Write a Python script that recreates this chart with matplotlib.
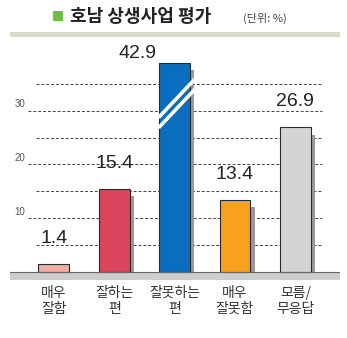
import matplotlib
matplotlib.use("Agg")
import matplotlib.pyplot as plt
from matplotlib.patches import Rectangle
from matplotlib import font_manager as fm

# ---- data ----
categories = ["매우\n잘함", "잘하는\n편", "잘못하는\n편", "매우\n잘못함", "모름/\n무응답"]
values = [1.4, 15.4, 42.9, 13.4, 26.9]
colors = ["#F4ABA2", "#D9455C", "#0A6DBE", "#F7A11D", "#D4D4D4"]
grid_values = [5, 10, 15, 20, 25, 30, 35]
tick_labels = {10: "10", 20: "20", 30: "30"}
title = "호남 상생사업 평가"
unit = "(단위: %)"

names = {f.name for f in fm.fontManager.ttflist}
narrow = "Liberation Sans Narrow" if "Liberation Sans Narrow" in names else "Liberation Sans"
kr = ["Noto Sans CJK KR", "DejaVu Sans"]

W, H = 347, 338
fig = plt.figure(figsize=(W / 100, H / 100), dpi=100)
fig.patch.set_facecolor("white")

# axes mapping: baseline (0) at y=272 px, 5.38 px per unit
ppu = 5.38
y_bot_px, y_top_px = 280, 57
ylo = -(y_bot_px - 272) / ppu
yhi = (272 - y_top_px) / ppu
ax = fig.add_axes([10 / W, 1 - y_bot_px / H, 330 / W, (y_bot_px - y_top_px) / H])
xlo, xhi = -0.725, 4.74
ax.set_xlim(xlo, xhi)
ax.set_ylim(ylo, yhi)
ax.axis("off")

cap = 38.9  # visible top of broken bar
bw = 0.51
sx, sy = 0.075, 1.35

# gray band under baseline
ax.add_patch(Rectangle((xlo, ylo), xhi - xlo, -ylo, facecolor="#CDCDCD", edgecolor="none", zorder=1))
ax.plot([xlo, xhi], [0, 0], color="#666666", lw=0.8, zorder=5)

# gridlines
for g in grid_values:
    x0 = -0.43 if g in tick_labels else -0.30
    ax.plot([x0, 4.44], [g, g], color="#444444", lw=0.7, dashes=(3, 2), zorder=1)
    if g in tick_labels:
        ax.text(-0.47, g + 0.25, tick_labels[g], ha="right", va="bottom",
                fontsize=7, color="#555555", family=narrow)

for i, (v, c) in enumerate(zip(values, colors)):
    h = min(v, cap)
    ax.add_patch(Rectangle((i - bw / 2 + sx, 0), bw, h - sy, facecolor="#9A9A9A",
                           edgecolor="none", zorder=2))
    ax.add_patch(Rectangle((i - bw / 2, 0), bw, h, facecolor=c,
                           edgecolor="#2a2a2a", lw=0.8, zorder=3))
    if v > cap:
        for off in (0.0, -1.9):
            ax.plot([i - bw / 2 - 0.01, i + bw / 2 + sx + 0.01],
                    [cap - 10.2 + off, cap - 3.0 + off],
                    color="white", lw=2.6, solid_capstyle="butt", zorder=4)
        ax.text(i - 0.62, h + 0.1, f"{v}", ha="center", va="bottom",
                fontsize=14, color="#222222", family=narrow)
    else:
        ax.text(i, h + 3.2, f"{v}", ha="center", va="bottom",
                fontsize=14, color="#222222", family=narrow)

# category labels
for i, lab in enumerate(categories):
    xp = 10 + (i - xlo) / (xhi - xlo) * 330
    fig.text(xp / W, 1 - 286 / H, lab, ha="center", va="top", fontsize=10,
             color="#333333", family=kr, linespacing=1.15)

# title area
fig.patches.append(Rectangle((53 / W, 1 - 21 / H), 10 / W, 10 / H, transform=fig.transFigure,
                             facecolor="#6DBE45", edgecolor="none"))
fig.text(70 / W, 1 - 17 / H, title, ha="left", va="center", fontsize=13,
         fontweight="bold", color="#222222", family=kr)
fig.text(243 / W, 1 - 18 / H, unit, ha="left", va="center", fontsize=8,
         color="#444444", family=kr)
fig.patches.append(Rectangle((10 / W, 1 - 37 / H), 330 / W, 5 / H, transform=fig.transFigure,
                             facecolor="#DADACB", edgecolor="none"))

fig.savefig("out.png", dpi=100, facecolor="white")
